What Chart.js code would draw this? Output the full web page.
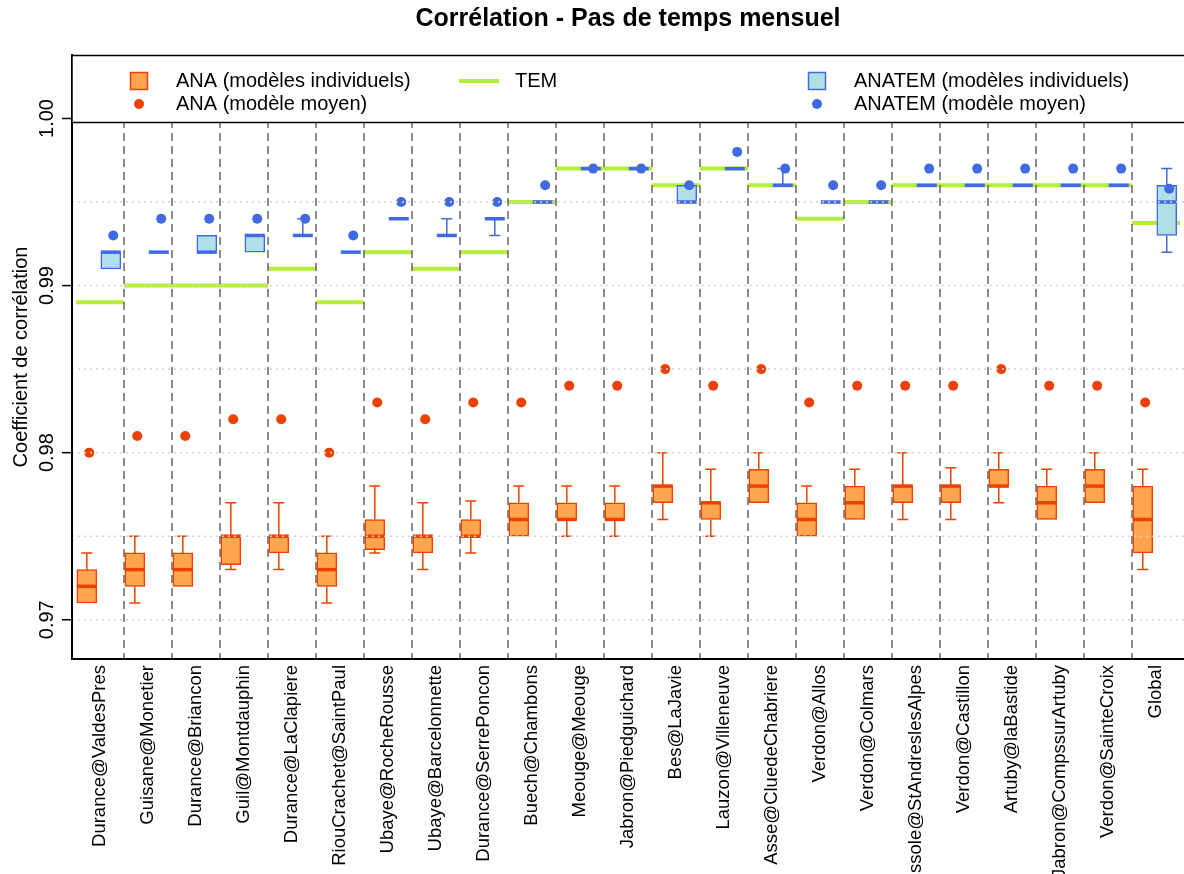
<!DOCTYPE html>
<html>
<head>
<meta charset="utf-8">
<style>html,body{margin:0;padding:0;background:#fff;}canvas{display:block;}</style>
<script src="https://cdn.jsdelivr.net/npm/chart.js@4/dist/chart.umd.min.js"></script>
</head>
<body>
<canvas id="c" width="1184" height="874"></canvas>
<script>
// ---------------- DATA ----------------
const categories = ['Durance@ValdesPres','Guisane@Monetier','Durance@Briancon','Guil@Montdauphin','Durance@LaClapiere','RiouCrachet@SaintPaul','Ubaye@RocheRousse','Ubaye@Barcelonnette','Durance@SerrePoncon','Buech@Chambons','Meouge@Meouge','Jabron@Piedguichard','Bes@LaJavie','Lauzon@Villeneuve','Asse@CluedeChabriere','Verdon@Allos','Verdon@Colmars','Issole@StAndreslesAlpes','Verdon@Castillon','Artuby@laBastide','Jabron@CompssurArtuby','Verdon@SainteCroix','Global'];

// ANA (modèles individuels) box statistics
const anaMin = [0.971,0.971,0.972,0.973,0.973,0.971,0.974,0.973,0.974,0.975,0.975,0.975,0.976,0.975,0.977,0.975,0.976,0.976,0.976,0.977,0.976,0.977,0.973];
const anaQ1  = [0.971,0.972,0.972,0.9733,0.974,0.972,0.9742,0.974,0.975,0.975,0.976,0.976,0.977,0.976,0.977,0.975,0.976,0.977,0.977,0.978,0.976,0.977,0.974];
const anaMed = [0.972,0.973,0.973,0.975,0.975,0.973,0.975,0.975,0.975,0.976,0.976,0.976,0.978,0.977,0.978,0.976,0.977,0.978,0.978,0.978,0.977,0.978,0.976];
const anaQ3  = [0.973,0.974,0.974,0.975,0.975,0.974,0.976,0.975,0.976,0.977,0.977,0.977,0.978,0.977,0.979,0.977,0.978,0.978,0.978,0.979,0.978,0.979,0.978];
const anaMax = [0.974,0.975,0.975,0.977,0.977,0.975,0.978,0.977,0.9771,0.978,0.978,0.978,0.980,0.979,0.980,0.978,0.979,0.980,0.9791,0.980,0.979,0.980,0.979];
// ANA (modèle moyen)
const anaMean = [0.980,0.981,0.981,0.982,0.982,0.980,0.983,0.982,0.983,0.983,0.984,0.984,0.985,0.984,0.985,0.983,0.984,0.984,0.984,0.985,0.984,0.984,0.983];

// TEM
const tem = [0.989,0.990,0.990,0.990,0.991,0.989,0.992,0.991,0.992,0.995,0.997,0.997,0.996,0.997,0.996,0.994,0.995,0.996,0.996,0.996,0.996,0.996,0.99375];

// ANATEM (modèles individuels) box statistics
const atMin = [0.991,0.992,0.992,0.992,0.993,0.992,0.994,0.993,0.993,0.995,0.997,0.997,0.995,0.997,0.996,0.995,0.995,0.996,0.996,0.996,0.996,0.996,0.992];
const atQ1  = [0.991,0.992,0.992,0.992,0.993,0.992,0.994,0.993,0.994,0.995,0.997,0.997,0.995,0.997,0.996,0.995,0.995,0.996,0.996,0.996,0.996,0.996,0.993];
const atMed = [0.992,0.992,0.992,0.993,0.993,0.992,0.994,0.993,0.994,0.995,0.997,0.997,0.995,0.997,0.996,0.995,0.995,0.996,0.996,0.996,0.996,0.996,0.995];
const atQ3  = [0.992,0.992,0.993,0.993,0.993,0.992,0.994,0.993,0.994,0.995,0.997,0.997,0.996,0.997,0.996,0.995,0.995,0.996,0.996,0.996,0.996,0.996,0.996];
const atMax = [0.992,0.992,0.993,0.993,0.994,0.992,0.994,0.994,0.994,0.995,0.997,0.997,0.996,0.997,0.997,0.995,0.995,0.996,0.996,0.996,0.996,0.996,0.997];
// ANATEM (modèle moyen)
const atMean = [0.993,0.994,0.994,0.994,0.994,0.993,0.995,0.995,0.995,0.996,0.997,0.997,0.996,0.998,0.997,0.996,0.996,0.997,0.997,0.997,0.997,0.997,0.9958];

// axis ticks
const yTickValues = [0.97, 0.98, 0.99, 1.00];
const yTickLabels = ['0.97', '0.98', '0.99', '1.00'];
const yGridValues = [0.97, 0.975, 0.98, 0.985, 0.99, 0.995, 1.00];

const titleText = 'Corrélation - Pas de temps mensuel';
const yTitleText = 'Coefficient de corrélation';
const legendLabels = ['ANA (modèles individuels)', 'ANA (modèle moyen)', 'TEM', 'ANATEM (modèles individuels)', 'ANATEM (modèle moyen)'];

// ---------------- STYLE ----------------
const COL = {anaFill:'#FFA54F', anaLine:'#EE4000', atFill:'#B0E0E6', atLine:'#4169E1', tem:'#B3EE3A'};
const OFF = {anaBox:-0.275, atBox:0.225, anaPt:-0.225, atPt:0.275};

Chart.defaults.font.family = '"Liberation Sans", Arial, Helvetica, sans-serif';
Chart.defaults.color = '#000';

const boxParts = {
  id: 'boxParts',
  beforeDatasetsDraw(chart) {
    const {ctx, scales: {x, y}} = chart;
    ctx.save();
    ctx.strokeStyle = COL.tem; ctx.lineWidth = 4; ctx.lineCap = 'butt';
    tem.forEach((v, i) => {
      const py = y.getPixelForValue(v);
      ctx.beginPath();
      ctx.moveTo(x.getPixelForValue(i - 0.5), py);
      ctx.lineTo(x.getPixelForValue(i + 0.5), py);
      ctx.stroke();
    });
    ctx.restore();
  },
  afterDatasetDraw(chart, args) {
    const ds = chart.data.datasets[args.index];
    if (!ds.boxStats) return;
    const s = ds.boxStats;
    const {ctx, scales: {y}} = chart;
    ctx.save();
    ctx.strokeStyle = ds.borderColor;
    args.meta.data.forEach((bar, i) => {
      const cx = bar.x, hw = bar.width / 2, cap = 5.5;
      ctx.lineWidth = 1.5;
      const pq3 = y.getPixelForValue(s.q3[i]), pmax = y.getPixelForValue(s.max[i]);
      const pq1 = y.getPixelForValue(s.q1[i]), pmin = y.getPixelForValue(s.min[i]);
      if (s.max[i] > s.q3[i]) {
        ctx.beginPath(); ctx.moveTo(cx, pq3); ctx.lineTo(cx, pmax);
        ctx.moveTo(cx - cap, pmax); ctx.lineTo(cx + cap, pmax); ctx.stroke();
      }
      if (s.min[i] < s.q1[i]) {
        ctx.beginPath(); ctx.moveTo(cx, pq1); ctx.lineTo(cx, pmin);
        ctx.moveTo(cx - cap, pmin); ctx.lineTo(cx + cap, pmin); ctx.stroke();
      }
      ctx.lineWidth = 3.5;
      const pm = y.getPixelForValue(s.med[i]);
      ctx.beginPath(); ctx.moveTo(cx - hw, pm); ctx.lineTo(cx + hw, pm); ctx.stroke();
    });
    ctx.restore();
  },
  afterDatasetsDraw(chart) {
    const {ctx, chartArea: a, scales: {x, y}} = chart;
    ctx.save();
    ctx.beginPath(); ctx.rect(a.left + 1, a.top, a.right - a.left, a.bottom - a.top - 1); ctx.clip();
    ctx.strokeStyle = '#D3D3D3'; ctx.lineWidth = 1.5; ctx.setLineDash([2, 4]);
    yGridValues.forEach(v => {
      const py = y.getPixelForValue(v);
      ctx.beginPath(); ctx.moveTo(a.left, py); ctx.lineTo(a.right, py); ctx.stroke();
    });
    ctx.strokeStyle = '#666'; ctx.lineWidth = 1.5; ctx.setLineDash([8, 5]);
    for (let i = 0; i < categories.length - 1; i++) {
      const px = x.getPixelForValue(i + 0.5);
      ctx.beginPath(); ctx.moveTo(px, a.top); ctx.lineTo(px, a.bottom); ctx.stroke();
    }
    ctx.restore();
  },
  afterDraw(chart) {
    const {ctx, chartArea: a, scales: {y}} = chart;
    ctx.save();
    // y ticks and labels
    ctx.strokeStyle = '#000'; ctx.lineWidth = 1.5; ctx.fillStyle = '#000';
    ctx.font = '20px "Liberation Sans", Arial, sans-serif';
    yTickValues.forEach((v, k) => {
      const py = y.getPixelForValue(v);
      ctx.beginPath(); ctx.moveTo(a.left - 10, py); ctx.lineTo(a.left, py); ctx.stroke();
      ctx.save();
      ctx.translate(53, py); ctx.rotate(-Math.PI / 2);
      ctx.textAlign = 'center'; ctx.textBaseline = 'alphabetic';
      ctx.fillText(yTickLabels[k], 0, 0);
      ctx.restore();
    });
    // legend
    const top = a.top + 0.5, bot = 122.5;
    ctx.fillStyle = '#fff';
    ctx.fillRect(a.left, top, a.right - a.left + 5, bot - top);
    ctx.strokeStyle = '#000'; ctx.lineWidth = 1.5;
    ctx.strokeRect(a.left, top, a.right - a.left + 5, bot - top);
    const r1 = 81, r2 = 104;
    ctx.textAlign = 'left'; ctx.textBaseline = 'middle'; ctx.fillStyle = '#000';
    // ANA box
    ctx.fillStyle = COL.anaFill; ctx.fillRect(130.5, r1 - 8.5, 17, 17);
    ctx.strokeStyle = COL.anaLine; ctx.strokeRect(130.5, r1 - 8.5, 17, 17);
    ctx.fillStyle = COL.anaLine; ctx.beginPath(); ctx.arc(139, r2, 5, 0, 2 * Math.PI); ctx.fill();
    // TEM
    ctx.strokeStyle = COL.tem; ctx.lineWidth = 4;
    ctx.beginPath(); ctx.moveTo(459, r1); ctx.lineTo(499, r1); ctx.stroke();
    // ANATEM
    ctx.lineWidth = 1.5;
    ctx.fillStyle = COL.atFill; ctx.fillRect(808.5, r1 - 8.5, 17, 17);
    ctx.strokeStyle = COL.atLine; ctx.strokeRect(808.5, r1 - 8.5, 17, 17);
    ctx.fillStyle = COL.atLine; ctx.beginPath(); ctx.arc(817, r2, 5, 0, 2 * Math.PI); ctx.fill();
    ctx.fillStyle = '#000';
    ctx.fillText(legendLabels[0], 176, r1);
    ctx.fillText(legendLabels[1], 176, r2);
    ctx.fillText(legendLabels[2], 515, r1);
    ctx.fillText(legendLabels[3], 854, r1);
    ctx.fillText(legendLabels[4], 854, r2);
    ctx.restore();
  }
};

const idx = categories.map((_, i) => i);

new Chart(document.getElementById('c'), {
  type: 'bar',
  data: {
    datasets: [
      {type:'scatter', label: legendLabels[1], order: 0,
       data: idx.map(i => ({x: i + OFF.anaPt, y: anaMean[i]})),
       pointRadius: 5, pointBackgroundColor: COL.anaLine, pointBorderWidth: 0, showLine: false},
      {type:'scatter', label: legendLabels[4], order: 0,
       data: idx.map(i => ({x: i + OFF.atPt, y: atMean[i]})),
       pointRadius: 5, pointBackgroundColor: COL.atLine, pointBorderWidth: 0, showLine: false},
      {type:'bar', label: legendLabels[3], order: 1, grouped: false,
       data: idx.map(i => ({x: i + OFF.atBox, y: [atQ1[i], atQ3[i]]})),
       backgroundColor: COL.atFill, borderColor: COL.atLine, borderWidth: 1.5, borderSkipped: false, barThickness: 20,
       boxStats: {min: atMin, q1: atQ1, med: atMed, q3: atQ3, max: atMax}},
      {type:'bar', label: legendLabels[0], order: 1, grouped: false,
       data: idx.map(i => ({x: i + OFF.anaBox, y: [anaQ1[i], anaQ3[i]]})),
       backgroundColor: COL.anaFill, borderColor: COL.anaLine, borderWidth: 1.5, borderSkipped: false, barThickness: 20,
       boxStats: {min: anaMin, q1: anaQ1, med: anaMed, q3: anaQ3, max: anaMax}}
    ]
  },
  options: {
    responsive: false,
    animation: false,
    layout: {padding: 0, autoPadding: false},
    plugins: {
      legend: {display: false},
      tooltip: {enabled: false},
      title: {display: true, text: titleText, fullSize: false, color: '#000',
              font: {size: 25, weight: 'bold'}, padding: {top: 4, bottom: 21}}
    },
    scales: {
      x: {
        type: 'linear', min: -0.584, max: 22.584, offset: false,
        afterBuildTicks: s => { s.ticks = idx.map(i => ({value: i})); },
        afterFit: s => { s.height = 215; s.paddingLeft = 0; s.paddingRight = 0; },
        ticks: {autoSkip: false, minRotation: 90, maxRotation: 90, padding: 6, color: '#000',
                font: {size: 18.5}, callback: v => categories[v]},
        grid: {color: 'rgba(0,0,0,0)', drawTicks: false, offset: false},
        border: {display: true, color: '#000', width: 2}
      },
      y: {
        type: 'linear', min: 0.96765, max: 1.0038,
        afterBuildTicks: s => { s.ticks = yGridValues.map(v => ({value: v})); },
        afterFit: s => { s.width = 72; s.paddingTop = 0; s.paddingBottom = 0; },
        ticks: {display: false},
        grid: {color: 'rgba(0,0,0,0)', drawTicks: false},
        border: {display: true, color: '#000', width: 2},
        title: {display: true, text: yTitleText, color: '#000', font: {size: 20}, padding: {top: 9, bottom: 0}}
      }
    }
  },
  plugins: [boxParts]
});
</script>
</body>
</html>
